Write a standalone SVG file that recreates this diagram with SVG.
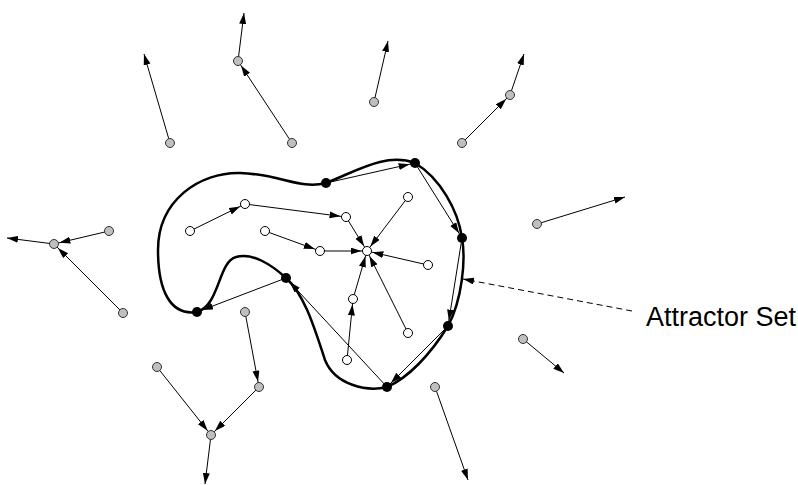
<svg xmlns="http://www.w3.org/2000/svg" width="798" height="485" viewBox="0 0 798 485">
<style>
.c{stroke:#000;stroke-width:1;fill:none}
.t{marker-end:url(#tip)}
.n{marker-end:url(#tonode)}
.g{fill:#bfbfbf;stroke:#333;stroke-width:1}
.w{fill:#fff;stroke:#000;stroke-width:1}
.b{fill:#000;stroke:none}
.curve{fill:none;stroke:#000;stroke-width:2.5}
.lbl{font-family:"Liberation Sans",Arial,sans-serif;font-size:27px;fill:#000}
</style>
<defs>
<marker id="tip" markerUnits="userSpaceOnUse" markerWidth="12" markerHeight="8" refX="11" refY="3.5" orient="auto">
<path d="M0,0 L11,3.5 L0,7 z" fill="#000"/>
</marker>
<marker id="tonode" markerUnits="userSpaceOnUse" markerWidth="18" markerHeight="8" refX="16.5" refY="3.5" orient="auto">
<path d="M0,0 L11,3.5 L0,7 z" fill="#000"/>
</marker>
</defs>
<rect width="798" height="485" fill="#fff"/>
<g id="attractor-set">
<path class="curve" d="M326,183 C355,172 385,152 415,163 C440,178 458,210 462,238 C466,260 462,300 448,326 C430,355 408,378 387,387 C367,392 335,385 325,360 C315,330 305,295 286,278 C272,265 252,252 236,257 C218,262 220,305 197,312 C170,316 158,290 158,250 C158,200 200,172 240,173 C280,174 300,190 326,183 Z"/>
</g>
<g id="connectors">
<line class="c t" x1="170" y1="143" x2="144" y2="54"/>
<line class="c t" x1="238" y1="61" x2="244" y2="13"/>
<line class="c n" x1="292" y1="143" x2="238" y2="61"/>
<line class="c t" x1="374" y1="102" x2="388" y2="41"/>
<line class="c n" x1="462" y1="143" x2="510" y2="95"/>
<line class="c t" x1="510" y1="95" x2="524" y2="54"/>
<line class="c t" x1="537" y1="224" x2="625" y2="197"/>
<line class="c n" x1="109" y1="231" x2="54" y2="244"/>
<line class="c n" x1="123" y1="313" x2="54" y2="244"/>
<line class="c t" x1="54" y1="244" x2="7" y2="238"/>
<line class="c n" x1="245" y1="312" x2="259" y2="387"/>
<line class="c n" x1="259" y1="387" x2="211" y2="435"/>
<line class="c n" x1="157" y1="367" x2="211" y2="435"/>
<line class="c t" x1="211" y1="435" x2="205" y2="484"/>
<line class="c t" x1="435" y1="387" x2="468" y2="480"/>
<line class="c t" x1="523" y1="339" x2="564" y2="373"/>
<line class="c n" x1="190" y1="231" x2="245" y2="204"/>
<line class="c n" x1="245" y1="204" x2="346" y2="217"/>
<line class="c n" x1="265" y1="231" x2="320" y2="251"/>
<line class="c n" x1="320" y1="251" x2="367" y2="251"/>
<line class="c n" x1="346" y1="217" x2="367" y2="251"/>
<line class="c n" x1="408" y1="197" x2="367" y2="251"/>
<line class="c n" x1="428" y1="265" x2="367" y2="251"/>
<line class="c n" x1="408" y1="333" x2="367" y2="251"/>
<line class="c n" x1="353" y1="299" x2="367" y2="251"/>
<line class="c n" x1="347" y1="360" x2="353" y2="299"/>
<line class="c n" x1="326" y1="183" x2="415" y2="163"/>
<line class="c n" x1="415" y1="163" x2="462" y2="238"/>
<line class="c n" x1="462" y1="238" x2="448" y2="326"/>
<line class="c n" x1="448" y1="326" x2="387" y2="387"/>
<line class="c n" x1="387" y1="387" x2="286" y2="278"/>
<line class="c n" x1="286" y1="278" x2="197" y2="312"/>
<line class="c t" x1="632" y1="311" x2="463" y2="279" stroke-dasharray="6,4"/>
</g>
<g id="g1"><circle class="g" cx="170" cy="143" r="4.5"/></g>
<g id="g2"><circle class="g" cx="238" cy="61" r="4.5"/></g>
<g id="g3"><circle class="g" cx="292" cy="143" r="4.5"/></g>
<g id="g4"><circle class="g" cx="374" cy="102" r="4.5"/></g>
<g id="g5"><circle class="g" cx="462" cy="143" r="4.5"/></g>
<g id="g6"><circle class="g" cx="510" cy="95" r="4.5"/></g>
<g id="g7"><circle class="g" cx="537" cy="224" r="4.5"/></g>
<g id="g8"><circle class="g" cx="109" cy="231" r="4.5"/></g>
<g id="g9"><circle class="g" cx="54" cy="244" r="4.5"/></g>
<g id="g10"><circle class="g" cx="123" cy="313" r="4.5"/></g>
<g id="g11"><circle class="g" cx="245" cy="312" r="4.5"/></g>
<g id="g12"><circle class="g" cx="259" cy="387" r="4.5"/></g>
<g id="g13"><circle class="g" cx="157" cy="367" r="4.5"/></g>
<g id="g14"><circle class="g" cx="211" cy="435" r="4.5"/></g>
<g id="g15"><circle class="g" cx="435" cy="387" r="4.5"/></g>
<g id="g16"><circle class="g" cx="523" cy="339" r="4.5"/></g>
<g id="w1"><circle class="w" cx="190" cy="231" r="4.5"/></g>
<g id="w2"><circle class="w" cx="245" cy="204" r="4.5"/></g>
<g id="w3"><circle class="w" cx="346" cy="217" r="4.5"/></g>
<g id="w4"><circle class="w" cx="265" cy="231" r="4.5"/></g>
<g id="w5"><circle class="w" cx="320" cy="251" r="4.5"/></g>
<g id="w-center"><circle class="w" cx="367" cy="251" r="4.5"/></g>
<g id="w7"><circle class="w" cx="408" cy="197" r="4.5"/></g>
<g id="w8"><circle class="w" cx="428" cy="265" r="4.5"/></g>
<g id="w9"><circle class="w" cx="408" cy="333" r="4.5"/></g>
<g id="w10"><circle class="w" cx="353" cy="299" r="4.5"/></g>
<g id="w11"><circle class="w" cx="347" cy="360" r="4.5"/></g>
<g id="b1"><circle class="b" cx="326" cy="183" r="5"/></g>
<g id="b2"><circle class="b" cx="415" cy="163" r="5"/></g>
<g id="b3"><circle class="b" cx="462" cy="238" r="5"/></g>
<g id="b4"><circle class="b" cx="448" cy="326" r="5"/></g>
<g id="b5"><circle class="b" cx="387" cy="387" r="5"/></g>
<g id="b6"><circle class="b" cx="286" cy="278" r="5"/></g>
<g id="b7"><circle class="b" cx="197" cy="312" r="5"/></g>
<g id="label"><text class="lbl" x="646" y="326">Attractor Set</text></g>
</svg>
